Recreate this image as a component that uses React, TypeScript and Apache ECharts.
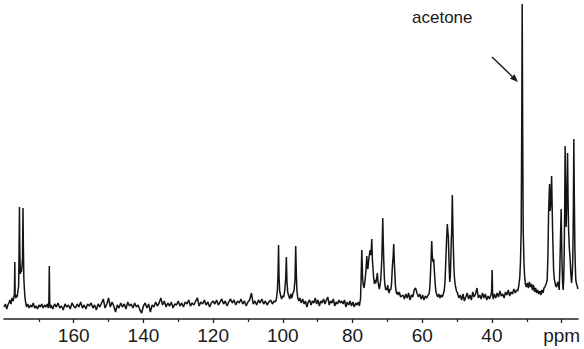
import React, { useEffect, useRef } from "react";
import * as echarts from "echarts";

// 13C NMR spectrum: [chemical shift (ppm), intensity (a.u.)]
const carbonylRegion = [
  [180, 12], [179.6, 15], [179.2, 10], [178.9, 14], [178.6, 16], [178.3, 19], [178.0, 15], [177.7, 21],
  [177.4, 18], [177.15, 22], [177.0, 26], [176.9, 57], [176.8, 24], [176.6, 21], [176.4, 24], [176.2, 22],
  [176.0, 28], [175.8, 33], [175.67, 70], [175.56, 112], [175.45, 64], [175.3, 45], [175.15, 51], [175.0, 47],
  [174.85, 52], [174.68, 62], [174.55, 111], [174.44, 72], [174.3, 40], [174.15, 30], [174.0, 22], [173.8, 17],
  [173.55, 12], [173.2, 15], [172.8, 11], [172.4, 14], [172.0, 12], [171.6, 16], [171.2, 11], [170.8, 13],
  [170.4, 10], [170.0, 14], [169.6, 12], [169.2, 15], [168.8, 11], [168.4, 14], [168.0, 12], [167.6, 15],
  [167.3, 11], [167.12, 18], [167.0, 53], [166.88, 16], [166.7, 11],
];

const noise166to141 = [
  [166.5, 14], [166, 10], [165.5, 15], [165, 12], [164.5, 16], [164, 11], [163.5, 13], [163, 9],
  [162.5, 15], [162, 12], [161.5, 14], [161, 10], [160.5, 16], [160, 13], [159.5, 11], [159, 15],
  [158.5, 12], [158, 17], [157.5, 11], [157, 14], [156.5, 10], [156, 15], [155.5, 13], [155, 16],
  [154.5, 11], [154, 14], [153.5, 9], [153, 15], [152.5, 12], [152, 16], [151.5, 20], [151, 11],
  [150.5, 15], [150, 21], [149.5, 12], [149, 17], [148.5, 13], [148, 7], [147.5, 14], [147, 11],
  [146.5, 16], [146, 12], [145.5, 15], [145, 10], [144.5, 17], [144, 13], [143.5, 15], [143, 11],
  [142.5, 16], [142, 12], [141.5, 14], [141, 9],
];

const noise140to121 = [
  [140.5, 6], [140, 13], [139.5, 16], [139, 11], [138.5, 15], [138, 7], [137.5, 14], [137, 12],
  [136.5, 17], [136, 13], [135.5, 16], [135, 21], [134.5, 14], [134, 18], [133.5, 12], [133, 16],
  [132.5, 13], [132, 17], [131.5, 11], [131, 15], [130.5, 14], [130, 18], [129.5, 13], [129, 16],
  [128.5, 12], [128, 17], [127.5, 15], [127, 19], [126.5, 13], [126, 16], [125.5, 14], [125, 18],
  [124.5, 21], [124, 13], [123.5, 17], [123, 15], [122.5, 19], [122, 14], [121.5, 17], [121, 12],
];

const noise120to102 = [
  [120.5, 16], [120, 18], [119.5, 15], [119, 19], [118.5, 14], [118, 17], [117.5, 20], [117, 15],
  [116.5, 18], [116, 13], [115.5, 17], [115, 20], [114.5, 16], [114, 19], [113.5, 14], [113, 18],
  [112.5, 16], [112, 20], [111.5, 15], [111, 18], [110.5, 13], [110, 17], [109.5, 19], [109, 26],
  [108.5, 15], [108, 18], [107.5, 14], [107, 19], [106.5, 16], [106, 20], [105.5, 15], [105, 18],
  [104.5, 14], [104, 17], [103.5, 19], [103, 15], [102.5, 18],
];

const anomericRegion = [
  [102.1, 17], [101.8, 21], [101.55, 29], [101.38, 44], [101.22, 74], [101.08, 42], [100.9, 28], [100.65, 24],
  [100.35, 20], [100.05, 23], [99.75, 22], [99.45, 28], [99.18, 40], [98.98, 62], [98.82, 38], [98.6, 27],
  [98.3, 23], [98.0, 20], [97.7, 25], [97.4, 21], [97.1, 26], [96.8, 28], [96.5, 39], [96.3, 73],
  [96.12, 45], [95.95, 28], [95.7, 21], [95.4, 18], [95.1, 21],
];

const noise95to78 = [
  [94.7, 16], [94.3, 20], [93.9, 15], [93.5, 18], [93.1, 12], [92.7, 17], [92.3, 19], [91.9, 14],
  [91.5, 18], [91.1, 16], [90.7, 21], [90.3, 15], [89.9, 19], [89.5, 13], [89.1, 18], [88.7, 16],
  [88.3, 20], [87.9, 15], [87.5, 19], [87.1, 22], [86.7, 14], [86.3, 18], [85.9, 16], [85.5, 20],
  [85.1, 13], [84.7, 17], [84.3, 15], [83.9, 19], [83.5, 16], [83.1, 18], [82.7, 15], [82.3, 19],
  [81.9, 12], [81.5, 17], [81.1, 14], [80.7, 18], [80.3, 13], [79.9, 17], [79.5, 12], [79.1, 16],
  [78.7, 14], [78.3, 17], [78.03, 13],
];

const sugarRegion = [
  [77.7, 20], [77.54, 39], [77.34, 69], [77.1, 40], [76.9, 34], [76.68, 31], [76.4, 39], [76.15, 48],
  [75.9, 63], [75.75, 52], [75.6, 50], [75.4, 58], [75.25, 62], [74.96, 69], [74.8, 64], [74.68, 66],
  [74.47, 80], [74.3, 60], [74.19, 54], [73.95, 42], [73.72, 35], [73.5, 39], [73.32, 36], [73.1, 40],
  [72.87, 46], [72.7, 38], [72.58, 35], [72.3, 30], [72.1, 34], [71.9, 39], [71.6, 59], [71.45, 80],
  [71.32, 101], [71.18, 78], [71.03, 58], [70.85, 40], [70.66, 33], [70.45, 29], [70.3, 31], [70.1, 29],
  [69.9, 34], [69.7, 28], [69.5, 26], [69.25, 30], [69.03, 29], [68.8, 35], [68.57, 52], [68.35, 62],
  [68.17, 75], [68.02, 58], [67.88, 48], [67.7, 34], [67.51, 28], [67.3, 25], [67.14, 27], [66.9, 24],
  [66.57, 27], [66.2, 22], [65.88, 23],
];

const noise66to58 = [
  [65.5, 24], [65.1, 20], [64.7, 25], [64.3, 21], [63.9, 26], [63.5, 19], [63.1, 24], [62.7, 22],
  [62.3, 29], [61.9, 31], [61.5, 26], [61.1, 22], [60.7, 25], [60.3, 20], [59.9, 24], [59.5, 19],
  [59.1, 23], [58.7, 21],
];

const region57to49 = [
  [58.3, 24], [58.05, 25], [57.85, 30], [57.67, 42], [57.45, 60], [57.27, 78], [57.12, 64], [56.99, 59],
  [56.85, 57], [56.7, 60], [56.55, 50], [56.41, 42], [56.2, 32], [56.04, 27], [55.8, 24], [55.56, 22],
  [55.25, 25], [54.9, 21], [54.6, 24], [54.23, 22], [53.95, 25], [53.66, 29], [53.45, 38], [53.25, 56],
  [53.0, 80], [52.8, 95], [52.65, 88], [52.5, 82], [52.3, 55], [52.1, 37], [51.95, 42], [51.82, 56],
  [51.65, 80], [51.53, 89], [51.36, 124], [51.2, 92], [51.05, 69], [50.9, 52], [50.77, 42], [50.55, 35],
  [50.37, 31], [50.15, 28], [49.9, 26], [49.65, 23], [49.45, 21],
];

const noise49to33 = [
  [49.1, 24], [48.7, 19], [48.3, 25], [47.9, 18], [47.5, 22], [47.1, 26], [46.7, 20], [46.3, 24],
  [45.9, 19], [45.5, 27], [45.1, 22], [44.7, 25], [44.3, 31], [43.9, 21], [43.5, 24], [43.1, 20],
  [42.7, 26], [42.3, 21], [41.9, 25], [41.5, 19], [41.1, 23], [40.7, 20], [40.3, 24], [40.1, 27],
  [39.93, 49], [39.8, 24], [39.6, 20], [39.3, 25], [38.9, 21], [38.5, 26], [38.1, 22], [37.7, 28],
  [37.3, 23], [36.9, 25], [36.5, 21], [36.1, 27], [35.7, 24], [35.3, 29], [34.9, 23], [34.5, 27],
  [34.1, 25], [33.7, 30], [33.3, 26], [32.9, 29],
];

const acetoneRegion = [
  [32.6, 28], [32.3, 33], [32.0, 42], [31.8, 58], [31.6, 90], [31.45, 190], [31.31, 315], [31.18, 190],
  [31.02, 88], [30.82, 58], [30.62, 43], [30.4, 35], [30.15, 32],
];

const region30to15 = [
  [29.85, 36], [29.55, 31], [29.25, 37], [28.95, 32], [28.65, 35], [28.35, 29], [28.05, 34], [27.75, 27],
  [27.45, 31], [27.15, 26], [26.85, 29], [26.55, 25], [26.25, 28], [25.95, 24], [25.65, 29], [25.35, 26],
  [25.05, 31], [24.8, 32], [24.45, 35], [24.14, 39], [23.95, 60], [23.74, 106], [23.46, 135], [23.3, 108],
  [23.1, 115], [22.87, 143], [22.7, 110], [22.59, 89], [22.3, 49], [22.1, 40], [21.93, 37], [21.7, 33],
  [21.45, 32], [21.2, 36], [21.0, 37], [20.85, 33], [20.7, 29], [20.5, 52], [20.3, 85], [20.13, 110],
  [19.98, 75], [19.84, 49], [19.7, 35], [19.56, 29], [19.4, 40], [19.27, 62], [19.12, 110], [18.99, 173],
  [18.85, 120], [18.7, 92], [18.5, 120], [18.3, 166], [18.15, 120], [18.0, 89], [17.8, 72], [17.55, 59],
  [17.35, 45], [17.15, 36], [16.95, 45], [16.78, 62], [16.63, 110], [16.5, 180], [16.35, 120], [16.2, 72],
  [16.05, 50], [15.93, 39], [15.7, 35], [15.45, 32], [15.35, 30],
];

const majorTicks = [20, 40, 60, 80, 100, 120, 140, 160];
const minorTicks = [30, 50, 70, 90, 110, 130, 150, 170];
const axisUnitLabel = "ppm";
const annotationLabel = "acetone";

const FONT = "'Liberation Sans', Arial, Helvetica, sans-serif";

export default function App() {
  const ref = useRef<HTMLDivElement>(null);

  useEffect(() => {
    if (!ref.current) return;
    const chart = echarts.init(ref.current, null, { renderer: "svg" });

    const spectrum = [
      ...carbonylRegion,
      ...noise166to141,
      ...noise140to121,
      ...noise120to102,
      ...anomericRegion,
      ...noise95to78,
      ...sugarRegion,
      ...noise66to58,
      ...region57to49,
      ...noise49to33,
      ...acetoneRegion,
      ...region30to15,
    ].sort((a, b) => b[0] - a[0]);

    // arrow for annotation
    const a0 = [492, 57];
    const a1 = [518, 82];
    const dx = a1[0] - a0[0];
    const dy = a1[1] - a0[1];
    const len = Math.sqrt(dx * dx + dy * dy);
    const ux = dx / len;
    const uy = dy / len;
    const headL = 8;
    const headW = 3.2;
    const bx = a1[0] - ux * headL;
    const by = a1[1] - uy * headL;

    const axisColor = "#222";
    const xMin = 15.3;
    const xMax = 180;

    chart.setOption({
      animation: false,
      backgroundColor: "#ffffff",
      textStyle: { fontFamily: FONT },
      grid: { left: 4, right: 6, top: 3, bottom: 30, containLabel: false },
      xAxis: [
        {
          type: "value",
          inverse: true,
          min: xMin,
          max: xMax,
          position: "bottom",
          axisLine: { show: true, lineStyle: { color: axisColor, width: 1.6 } },
          axisTick: {
            show: true,
            inside: false,
            length: 4,
            customValues: majorTicks,
            lineStyle: { color: axisColor, width: 1.3 },
          },
          axisLabel: {
            customValues: majorTicks,
            color: "#1a1a1a",
            fontSize: 19,
            fontFamily: FONT,
            margin: 7,
            formatter: (v: number) => (v === 20 ? axisUnitLabel : String(v)),
          },
          splitLine: { show: false },
        },
        {
          type: "value",
          inverse: true,
          min: xMin,
          max: xMax,
          position: "bottom",
          axisLine: { show: false },
          axisTick: {
            show: true,
            inside: false,
            length: 3,
            customValues: minorTicks,
            lineStyle: { color: axisColor, width: 1.2 },
          },
          axisLabel: { show: false },
          splitLine: { show: false },
        },
      ],
      yAxis: { type: "value", min: 0, max: 316, show: false },
      series: [
        {
          type: "line",
          xAxisIndex: 0,
          data: spectrum,
          symbol: "none",
          showSymbol: false,
          silent: true,
          lineStyle: { color: "#141414", width: 1.5 },
        },
      ],
      graphic: [
        {
          type: "text",
          left: 412,
          top: 9,
          style: { text: annotationLabel, fill: "#1a1a1a", font: `17px ${FONT}` },
        },
        {
          type: "line",
          shape: { x1: a0[0], y1: a0[1], x2: bx, y2: by },
          style: { stroke: "#1a1a1a", lineWidth: 1.4 },
        },
        {
          type: "polygon",
          shape: {
            points: [
              [a1[0], a1[1]],
              [bx - uy * headW, by + ux * headW],
              [bx + uy * headW, by - ux * headW],
            ],
          },
          style: { fill: "#1a1a1a" },
        },
      ],
    });

    return () => chart.dispose();
  }, []);

  return (
    <div
      ref={ref}
      style={{ position: "absolute", left: 0, top: 0, width: 584, height: 349, background: "#fff" }}
    />
  );
}
